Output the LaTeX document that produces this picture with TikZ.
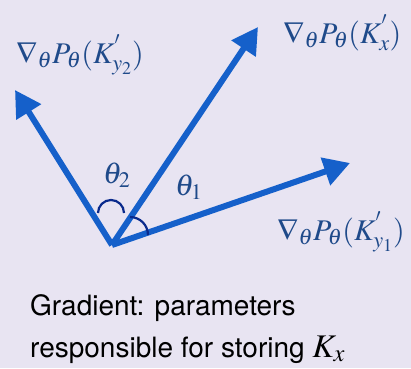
\documentclass[tikz,border=0pt]{standalone}
\usepackage{fontspec}
\usepackage{mathptmx}
\setsansfont{TeX Gyre Heros}
\usetikzlibrary{arrows.meta}
\definecolor{bg}{HTML}{E8E4F2}
\definecolor{arrowblue}{HTML}{1560CA}
\definecolor{labblue}{HTML}{1F4A8A}
\definecolor{arcblue}{HTML}{0A2A8C}
\tikzset{
  vec/.style={draw=arrowblue, line width=6pt, -{Triangle[length=26pt,width=28pt]}},
  lab/.style={text=labblue, font=\fontsize{30}{36}\selectfont, inner sep=0pt, anchor=base west},
  anglab/.style={text=labblue, font=\fontsize{30}{36}\selectfont, inner sep=0pt, anchor=base west},
  anglearc/.style={draw=arcblue, line width=2.2pt},
  caption/.style={text=black, font=\sffamily\fontsize{28}{34}\selectfont, inner sep=0pt, anchor=base west}
}
\begin{document}
\begin{tikzpicture}[x=1pt,y=1pt]
\fill[bg] (0,0) rectangle (411,368);
\useasboundingbox (0,0) rectangle (411,368);
\coordinate (O) at (112,123);
\coordinate (tL) at (15,278);
\coordinate (tU) at (258,341);
\coordinate (tR) at (350,205);
\draw[vec] (O) -- (tL);
\draw[vec] (O) -- (tU);
\draw[vec] (O) -- (tR);
\coordinate (a2) at (98,155);
\coordinate (a1) at (130,151);
\draw[anglearc] (a2) arc[start angle=180,end angle=0,radius=13];
\draw[anglearc] (a1) arc[start angle=90,end angle=0,radius=18];
\node[lab] (lL) at (16,305) {$\nabla_{\theta}P_{\theta}(K^{'}_{y_2})$};
\node[lab] (lU) at (283,325) {$\nabla_{\theta}P_{\theta}(K^{'}_{x})$};
\node[lab] (lR) at (277,128) {$\nabla_{\theta}P_{\theta}(K^{'}_{y_1})$};
\node[anglab] (th2) at (103,185) {$\theta_2$};
\node[anglab] (th1) at (175,173) {$\theta_1$};
\node[caption] (c1) at (30,53) {Gradient: parameters};
\node[caption] (c2) at (30,11) {responsible for storing {\rmfamily\fontsize{33}{36}\selectfont$K_x$}};
\end{tikzpicture}
\end{document}
